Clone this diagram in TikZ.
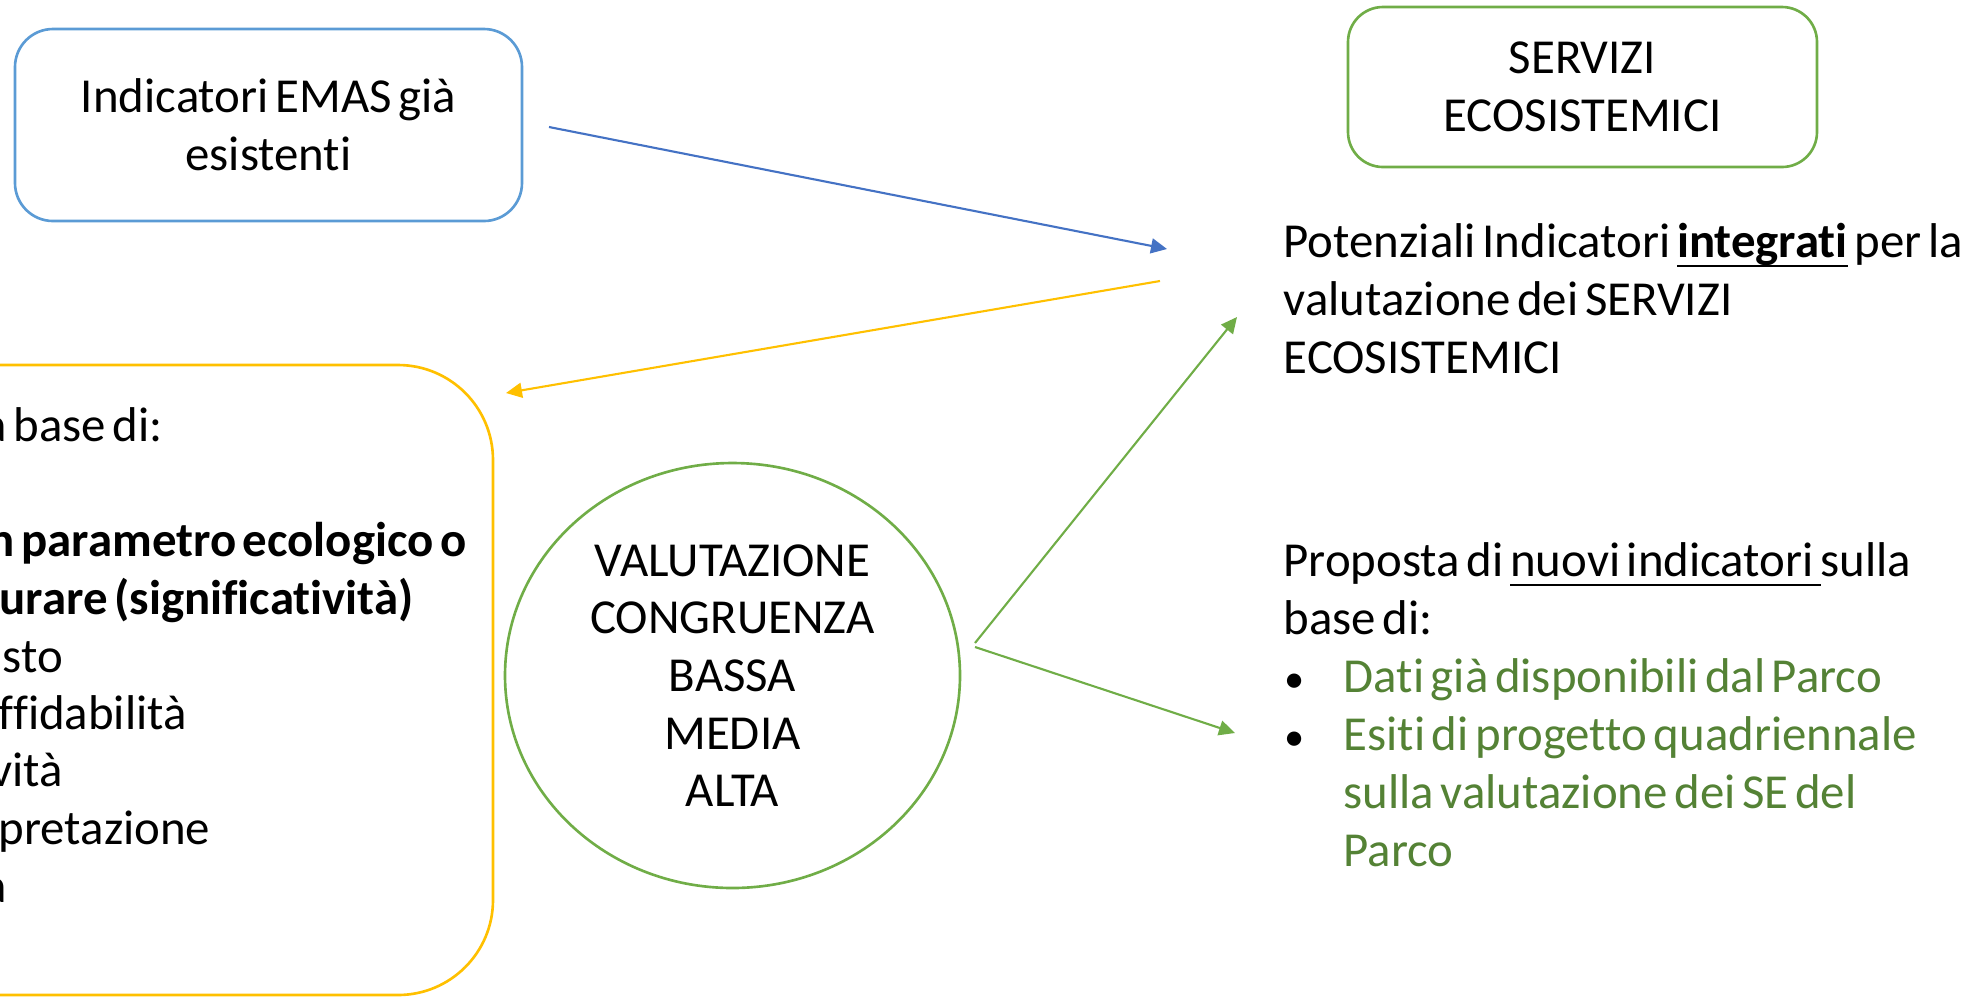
\documentclass[tikz,border=0pt]{standalone}
\usepackage{fontspec}
\setmainfont{Carlito}[Ligatures=NoCommon, WordSpace=0.6]
\usetikzlibrary{arrows.meta,shapes.geometric}
\definecolor{emasblu}{HTML}{5B9BD5}
\definecolor{frecciablu}{HTML}{4472C4}
\definecolor{giallo}{HTML}{FFC000}
\definecolor{verde}{HTML}{70AD47}
\definecolor{verdescuro}{HTML}{548235}
\newcommand{\sottolinea}[1]{\setbox0\hbox{#1}\rlap{\rule[-2.8pt]{\wd0}{0.6pt}}\box0\relax}
\newcommand{\puntino}{{\fontsize{11.5}{11.5}\selectfont\textbullet}}

\begin{document}
\begin{tikzpicture}[x=0.1mm, y=-0.1mm, font=\fontsize{13.9}{16.4}\selectfont,
  riga/.style={inner sep=0pt, anchor=base west},
  riquadro/.style={draw, line width=0.75pt, rounded corners=#1, inner sep=0pt, align=center},
  freccia/.style={-{Triangle[length=1.6mm, width=1.5mm]}, line width=0.6pt}]
	\clip (0,0) rectangle (1978,997);

	% riquadri
	\node[riquadro=3.8mm, emasblu, text=black, minimum width=50.7mm, minimum height=19.2mm] (emas) at (268.5,125) {Indicatori EMAS già\\esistenti};
	\node[riquadro=3.5mm, verde, text=black, minimum width=46.9mm, minimum height=16mm] (servizi) at (1582.5,87) {SERVIZI\\ECOSISTEMICI};
	\node[draw=verde, line width=0.75pt, ellipse, minimum width=45.5mm, minimum height=42.5mm, align=center, inner sep=0pt] (congruenza) at (732.5,675.5) {VALUTAZIONE\\CONGRUENZA\\BASSA\\MEDIA\\ALTA};
	\node[riquadro=9.5mm, giallo, minimum width=79.3mm, minimum height=63mm] (criteri) at (96.5,680) {};

	% testo nel riquadro giallo (tagliato a sinistra)
	\node[riga] (c1) at (-17,441) {a base di:};
	\node[riga] (c2) at (-12,556) {\bfseries n parametro ecologico o};
	\node[riga] (c3) at (-1,614) {\bfseries urare (significatività)};
	\node[riga] (c4) at (2,672) {sto};
	\node[riga] (c5) at (-2,729) {ffidabilità};
	\node[riga] (c6) at (-10,786) {vità};
	\node[riga] (c7) at (-2,844) {pretazione};
	\node[riga] (c8) at (-17,902) {a};

	% testo a destra
	\node[riga] (p1) at (1283,257) {Potenziali Indicatori \sottolinea{\bfseries integrati} per la};
	\node[riga] (p2) at (1283,315) {valutazione dei SERVIZI};
	\node[riga] (p3) at (1283,373) {ECOSISTEMICI};

	\node[riga] (n1) at (1283,576) {Proposta di \sottolinea{nuovi indicatori }sulla};
	\node[riga] (n2) at (1283,634) {base di:};
	\node[riga] (b1) at (1284,692) {\puntino};
	\node[riga, verdescuro] (n3) at (1343,692) {Dati già disponibili dal Parco};
	\node[riga] (b2) at (1284,750) {\puntino};
	\node[riga, verdescuro] (n4) at (1343,750) {Esiti di progetto quadriennale};
	\node[riga, verdescuro] (n5) at (1343,808) {sulla valutazione dei SE del};
	\node[riga, verdescuro] (n6) at (1343,866) {Parco};

	% frecce
	\coordinate (emasout) at (549,127);
	\coordinate (potin) at (1167,249);
	\coordinate (potout) at (1160,281);
	\coordinate (criteriin) at (506,393);
	\coordinate (congout1) at (975,643);
	\coordinate (congout2) at (975,647);
	\coordinate (potin2) at (1237,317);
	\coordinate (nuoviin) at (1235,733);
	\draw[freccia, frecciablu] (emasout) -- (potin);
	\draw[freccia, giallo] (potout) -- (criteriin);
	\draw[freccia, verde] (congout1) -- (potin2);
	\draw[freccia, verde] (congout2) -- (nuoviin);
\end{tikzpicture}
\end{document}
